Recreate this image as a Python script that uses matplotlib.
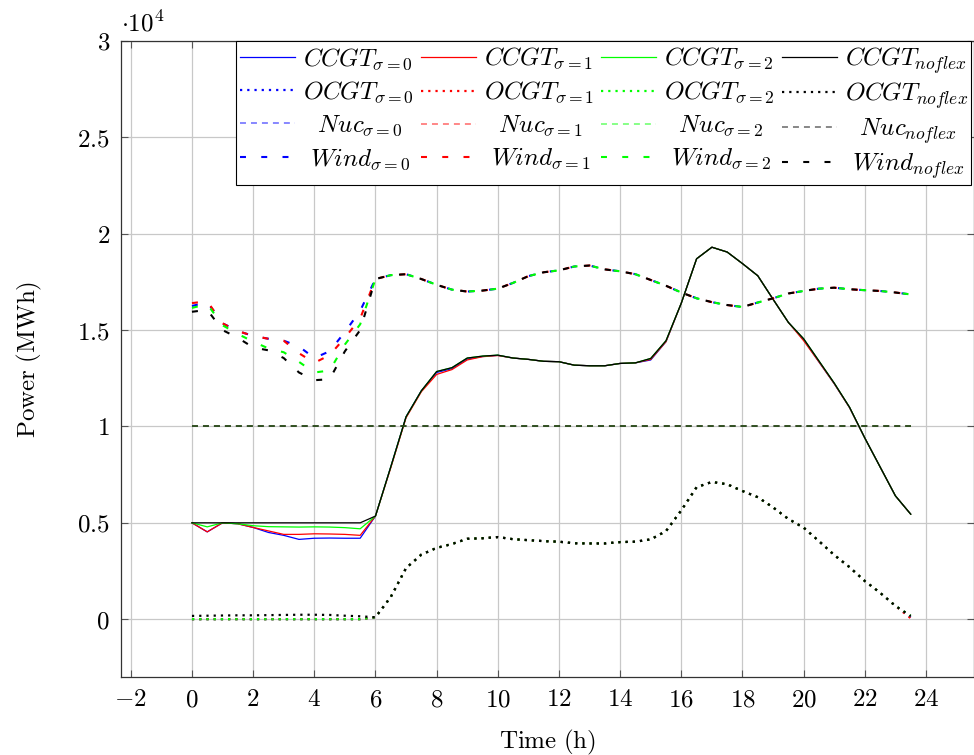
import numpy as np
import matplotlib
matplotlib.use('Agg')
import matplotlib.pyplot as plt
from matplotlib.ticker import FuncFormatter
from matplotlib.offsetbox import DrawingArea, HPacker, VPacker

plt.rcParams['mathtext.fontset'] = 'cm'
plt.rcParams['font.family'] = ['DejaVu Serif']
plt.rcParams['lines.scale_dashes'] = False
plt.rcParams['axes.unicode_minus'] = True

# ---------------- data ----------------
hours = [0, 0.5, 1, 1.5, 2, 2.5, 3, 3.5, 4, 4.5, 5, 5.5,
         6, 6.5, 7, 7.5, 8, 8.5, 9, 9.5, 10, 10.5, 11, 11.5,
         12, 12.5, 13, 13.5, 14, 14.5, 15, 15.5, 16, 16.5, 17, 17.5,
         18, 18.5, 19, 19.5, 20, 20.5, 21, 21.5, 22, 22.5, 23, 23.5]

scenarios = [r'\sigma=0', r'\sigma=1', r'\sigma=2', r'noflex']
colors = ['#0000ff', '#ff0000', '#00ff00', '#000000']

ccgt_s0 = [5000, 4530, 5000, 4950, 4760, 4500, 4350, 4140, 4200, 4210, 4200, 4200,
           5350, 7900, 10500, 11850, 12800, 13000, 13500, 13630, 13690, 13550, 13480, 13380,
           13360, 13180, 13150, 13150, 13270, 13300, 13450, 14400, 16400, 18700, 19300, 19050,
           18450, 17820, 16600, 15400, 14500, 13350, 12220, 10980, 9400, 7900, 6400, 5450]
ccgt_s1 = [5000, 4530, 5000, 4950, 4760, 4580, 4400, 4400, 4430, 4420, 4400, 4350,
           5350, 7850, 10450, 11800, 12700, 12950, 13450, 13620, 13680, 13550, 13480, 13380,
           13360, 13180, 13150, 13150, 13270, 13300, 13480, 14400, 16400, 18700, 19300, 19050,
           18450, 17820, 16600, 15400, 14450, 13350, 12220, 10980, 9400, 7900, 6400, 5450]
ccgt_s2 = [5000, 4790, 5000, 4950, 4850, 4800, 4790, 4780, 4790, 4780, 4750, 4690,
           5350, 7900, 10500, 11850, 12850, 13050, 13550, 13650, 13700, 13550, 13480, 13380,
           13360, 13180, 13150, 13150, 13270, 13300, 13530, 14450, 16400, 18700, 19300, 19050,
           18450, 17820, 16600, 15400, 14550, 13400, 12250, 11000, 9400, 7900, 6400, 5450]
ccgt_nf = [5000, 5000, 5000, 5000, 5000, 5000, 5000, 5000, 5000, 5000, 5000, 5000,
           5350, 7900, 10500, 11850, 12850, 13050, 13550, 13650, 13700, 13550, 13480, 13380,
           13360, 13180, 13150, 13150, 13270, 13300, 13530, 14450, 16400, 18700, 19300, 19050,
           18450, 17820, 16600, 15400, 14550, 13400, 12250, 11000, 9400, 7900, 6400, 5450]

ocgt_s0 = [0, 0, 0, 0, 0, 0, 0, 0, 0, 0, 0, 0,
           100, 1150, 2650, 3350, 3700, 3900, 4170, 4200, 4260, 4150, 4100, 4050,
           4020, 3940, 3930, 3930, 4000, 4020, 4140, 4570, 5650, 6850, 7120, 7000,
           6650, 6330, 5800, 5200, 4750, 4050, 3330, 2700, 1980, 1370, 690, 100]
ocgt_s1 = [0, 0, 0, 0, 0, 0, 0, 0, 0, 0, 0, 0,
           100, 1150, 2650, 3350, 3700, 3900, 4170, 4200, 4260, 4150, 4100, 4050,
           4020, 3940, 3930, 3930, 4000, 4020, 4140, 4570, 5650, 6850, 7120, 7000,
           6650, 6330, 5800, 5200, 4750, 4050, 3330, 2700, 1980, 1370, 690, 50]
ocgt_s2 = [0, 0, 0, 0, 0, 0, 0, 0, 0, 0, 0, 0,
           100, 1150, 2650, 3350, 3700, 3900, 4170, 4200, 4260, 4150, 4100, 4050,
           4020, 3940, 3930, 3930, 4000, 4020, 4140, 4570, 5650, 6850, 7120, 7000,
           6650, 6330, 5800, 5200, 4750, 4050, 3330, 2700, 1980, 1370, 690, 170]
ocgt_nf = [170, 180, 190, 200, 200, 210, 220, 230, 230, 220, 180, 150,
           100, 1150, 2650, 3350, 3700, 3900, 4170, 4200, 4260, 4150, 4100, 4050,
           4020, 3940, 3930, 3930, 4000, 4020, 4140, 4570, 5650, 6850, 7120, 7000,
           6650, 6330, 5800, 5200, 4750, 4050, 3330, 2700, 1980, 1370, 690, 170]

nuc_s0 = [10000] * 48
nuc_s1 = [10000] * 48
nuc_s2 = [10000] * 48
nuc_nf = [10000] * 48

wind_s0 = [16250, 16450, 15350, 14950, 14700, 14550, 14450, 14150, 13550, 13900, 14900, 16000,
           17650, 17850, 17900, 17650, 17350, 17100, 17000, 17050, 17150, 17450, 17800, 18000,
           18100, 18300, 18350, 18150, 18050, 17900, 17600, 17300, 16950, 16650, 16450, 16300,
           16200, 16430, 16650, 16900, 17030, 17150, 17200, 17120, 17070, 17030, 16950, 16850]
wind_s1 = [16400, 16500, 15350, 14950, 14700, 14550, 14450, 13800, 13300, 13700, 14600, 15600,
           17650, 17850, 17900, 17650, 17350, 17100, 17000, 17050, 17150, 17450, 17800, 18000,
           18100, 18300, 18350, 18150, 18050, 17900, 17600, 17300, 16950, 16650, 16450, 16300,
           16200, 16430, 16650, 16900, 17030, 17150, 17200, 17120, 17070, 17030, 16950, 16850]
wind_s2 = [16150, 16350, 15250, 14800, 14400, 14050, 13850, 13350, 12800, 12900, 14250, 15300,
           17650, 17850, 17900, 17650, 17350, 17100, 17000, 17050, 17150, 17450, 17800, 18000,
           18100, 18300, 18350, 18150, 18050, 17900, 17600, 17300, 16950, 16650, 16450, 16300,
           16200, 16430, 16650, 16900, 17030, 17150, 17200, 17120, 17070, 17030, 16950, 16850]
wind_nf = [15950, 16050, 15000, 14600, 14100, 13950, 13550, 12800, 12400, 12450, 13900, 15000,
           17650, 17850, 17900, 17650, 17350, 17100, 17000, 17050, 17150, 17450, 17800, 18000,
           18100, 18300, 18350, 18150, 18050, 17900, 17600, 17300, 16950, 16650, 16450, 16300,
           16200, 16430, 16650, 16900, 17030, 17150, 17200, 17120, 17070, 17030, 16950, 16850]

x_ticks = [-2, 0, 2, 4, 6, 8, 10, 12, 14, 16, 18, 20, 22, 24]
y_ticks = [0, 5000, 10000, 15000, 20000, 25000, 30000]

# ---------------- figure ----------------
W, H = 974, 755
fig = plt.figure(figsize=(W / 100, H / 100), dpi=100)
ax = fig.add_axes([121 / W, (H - 677) / H, 853 / W, (677 - 41) / H])

groups = [
    ('CCGT', [ccgt_s0, ccgt_s1, ccgt_s2, ccgt_nf], dict(lw=0.9, linestyle='-')),
    ('OCGT', [ocgt_s0, ocgt_s1, ocgt_s2, ocgt_nf], dict(lw=1.6, dashes=(1.6, 3.6), dash_capstyle='butt')),
    ('Nuc', [nuc_s0, nuc_s1, nuc_s2, nuc_nf], dict(lw=1.2, dashes=(4.3, 3.6), alpha=0.55)),
    ('Wind', [wind_s0, wind_s1, wind_s2, wind_nf], dict(lw=1.5, dashes=(4.3, 11.0))),
]

handles = {}
for gi, (name, series, style) in enumerate(groups):
    for si, (vals, col, sc) in enumerate(zip(series, colors, scenarios)):
        pad = r'\ \ ' if name == 'Nuc' else (r'\ ' if name == 'Wind' else '')
        lab = r'$%s%s_{%s}$' % (pad, name, sc)
        ln, = ax.plot(hours, vals, color=col, label=lab, zorder=3, **style)
        handles[(gi, si)] = ln

ax.set_xlim(-2.32, 25.57)
ax.set_ylim(-3000, 30000)
ax.set_xticks(x_ticks)
ax.set_yticks(y_ticks)
ax.xaxis.set_major_formatter(FuncFormatter(lambda v, p: r'$%d$' % v))
ax.yaxis.set_major_formatter(FuncFormatter(lambda v, p: r'$%g$' % (v / 1e4)))
ax.tick_params(direction='in', length=5, width=0.8, color='#555555',
               top=True, right=True, labelsize=18, pad=8)
ax.grid(True, color='#c8c8c8', lw=0.9, zorder=0)
ax.set_axisbelow(True)
for s in ax.spines.values():
    s.set_linewidth(0.9)
    s.set_color('#333333')

ax.set_xlabel(r'$\mathrm{Time\ (h)}$', fontsize=18, labelpad=12)
ax.set_ylabel(r'$\mathrm{Power\ (MWh)}$', fontsize=18, labelpad=24)
ax.text(0.0, 1.008, r'$\cdot 10^{4}$', transform=ax.transAxes, ha='left', va='bottom', fontsize=18)

order = []
for si in range(4):
    for gi in range(4):
        order.append(handles[(gi, si)])
leg = ax.legend(order, [h.get_label() for h in order], ncol=4, loc='upper right',
                bbox_to_anchor=(0.997, 1.0), borderaxespad=0, fancybox=False,
                edgecolor='black', framealpha=1, fontsize=18, handlelength=2.2,
                handletextpad=0.3, columnspacing=0.3, borderpad=0.15, labelspacing=0.2)
leg.get_frame().set_linewidth(0.8)


# make every legend row the same height so rows line up across columns
def _equalize(box):
    for c in box.get_children():
        if isinstance(c, DrawingArea):
            c.ydescent = 6.5
            c.height = 14.0 + 6.5
        elif isinstance(c, (HPacker, VPacker)):
            _equalize(c)


_equalize(leg._legend_box)

fig.savefig('out.png', dpi=100)
